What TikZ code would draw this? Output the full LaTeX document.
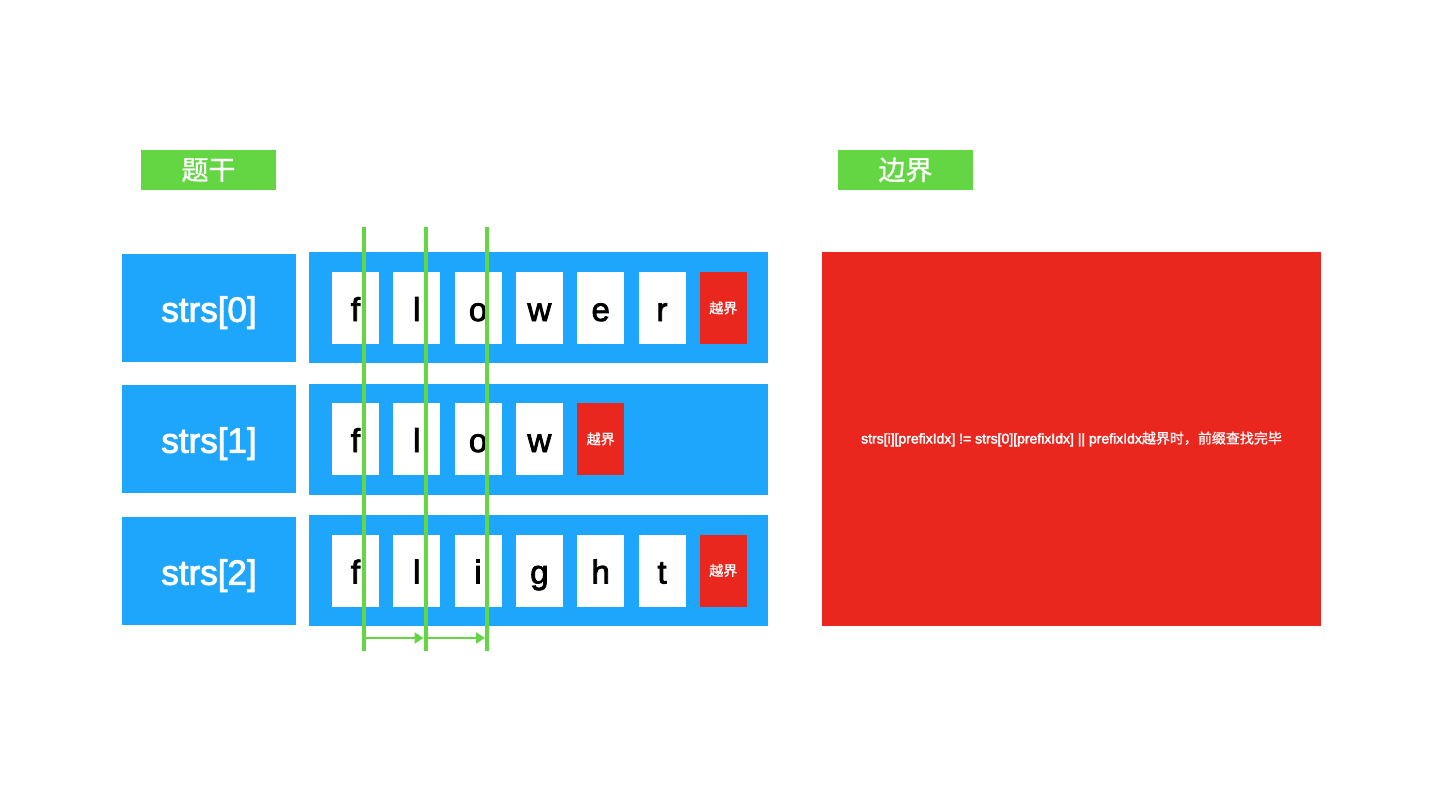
\documentclass[tikz,border=0pt]{standalone}
\usepackage{fontspec}
\setmainfont{Liberation Sans}
\newfontfamily\medfont[FakeBold=2.5]{Liberation Sans}
\newfontfamily\cjk[FakeBold=1.0]{Noto Sans CJK SC}
\usetikzlibrary{arrows.meta}
\definecolor{myblue}{RGB}{30,165,252}
\definecolor{mygreen}{RGB}{100,214,68}
\definecolor{myred}{RGB}{234,39,31}
\tikzset{
  base/.style={inner sep=0pt, outer sep=0pt, draw=none},
  title/.style={base, fill=mygreen, minimum width=135pt, minimum height=40pt, text=white, font=\cjk\fontsize{27}{30}\selectfont},
  strsbox/.style={base, fill=myblue, minimum width=174pt, minimum height=108pt, text=white, text height=27.5pt, text depth=0pt, font=\medfont\fontsize{35}{38}\selectfont},
  rowbox/.style={base, fill=myblue, minimum width=459pt, minimum height=111pt},
  letter/.style={base, fill=white, minimum width=47pt, minimum height=72pt, text=black, text height=26pt, text depth=0pt, font=\medfont\fontsize{33}{36}\selectfont},
  oob/.style={base, fill=myred, minimum width=47pt, minimum height=72pt, text=white, font=\cjk\fontsize{14}{16}\selectfont},
  bigred/.style={base, fill=myred, minimum width=499pt, minimum height=374pt, text=white, font=\medfont\fontsize{14}{16}\selectfont},
  scan/.style={draw=mygreen, line width=4pt},
  move/.style={draw=mygreen, line width=2pt, -{Triangle[length=9pt,width=11pt]}}
}
\begin{document}
\begin{tikzpicture}[x=1pt,y=-1pt]
\useasboundingbox[fill=white] (0,0) rectangle (1440,800);
% titles
\node[title] (t1) at (208.5,170) {题干};
\node[title] (t2) at (905.5,170) {边界};
% left labels
\node[strsbox] (s0) at (209,308) {strs[0]};
\node[strsbox] (s1) at (209,439) {strs[1]};
\node[strsbox] (s2) at (209,571) {strs[2]};
% row backgrounds
\node[rowbox] (r0) at (538.5,307.5) {};
\node[rowbox] (r1) at (538.5,439) {};
\node[rowbox] (r2) at (538.5,570.5) {};
% row 0: flower
\node[letter] (a0) at (355.5,308) {f};
\node[letter] (a1) at (416.8,308) {l};
\node[letter] (a2) at (478.1,308) {o};
\node[letter] (a3) at (539.4,308) {w};
\node[letter] (a4) at (600.7,308) {e};
\node[letter] (a5) at (662.0,308) {r};
\node[oob] (a6) at (723.3,308) {越界};
% row 1: flow
\node[letter] (b0) at (355.5,439) {f};
\node[letter] (b1) at (416.8,439) {l};
\node[letter] (b2) at (478.1,439) {o};
\node[letter] (b3) at (539.4,439) {w};
\node[oob] (b4) at (600.7,439) {越界};
% row 2: flight
\node[letter] (c0) at (355.5,570.5) {f};
\node[letter] (c1) at (416.8,570.5) {l};
\node[letter] (c2) at (478.1,570.5) {i};
\node[letter] (c3) at (539.4,570.5) {g};
\node[letter] (c4) at (600.7,570.5) {h};
\node[letter] (c5) at (662.0,570.5) {t};
\node[oob] (c6) at (723.3,570.5) {越界};
% boundary panel
\node[bigred] (br) at (1071.5,439) {strs[i][prefixIdx] != strs[0][prefixIdx] || prefixIdx{\cjk 越界时，前缀查找完毕}};
% scanning lines
\coordinate (l0t) at (364,227); \coordinate (l0b) at (364,651);
\coordinate (l1t) at (425.5,227); \coordinate (l1b) at (425.5,651);
\coordinate (l2t) at (487,227); \coordinate (l2b) at (487,651);
\draw[scan] (l0t) -- (l0b);
\draw[scan] (l1t) -- (l1b);
\draw[scan] (l2t) -- (l2b);
% arrows
\coordinate (m0) at (366,638);
\coordinate (m1e) at (423.5,638);
\coordinate (m1s) at (427.5,638);
\coordinate (m2e) at (485,638);
\draw[move] (m0) -- (m1e);
\draw[move] (m1s) -- (m2e);
\end{tikzpicture}
\end{document}
